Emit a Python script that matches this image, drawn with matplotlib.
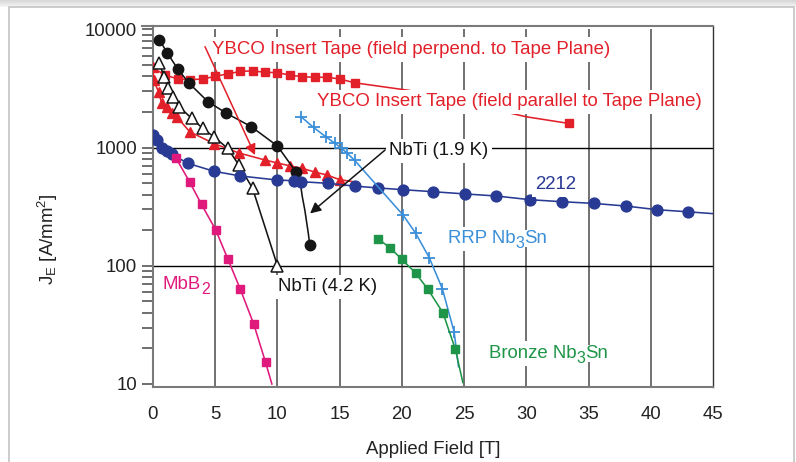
import numpy as np
import matplotlib
matplotlib.use("Agg")
import matplotlib.pyplot as plt
from matplotlib.patches import Rectangle

plt.rcParams["font.family"] = ["Liberation Sans", "DejaVu Sans"]
plt.rcParams["mathtext.fontset"] = "custom"
plt.rcParams["mathtext.rm"] = "Liberation Sans"
plt.rcParams["mathtext.it"] = "Liberation Sans:italic"
plt.rcParams["mathtext.bf"] = "Liberation Sans:bold"
plt.rcParams["mathtext.default"] = "regular"

# ---------------- data: engineering current density vs applied field ----------------
# NbTi at 1.9 K
nbti19_B = [0.5, 1.15, 2.0, 2.9, 4.4, 5.9, 7.9, 10.0, 11.5, 12.6]
nbti19_J = [8200, 6300, 4600, 3500, 2450, 1950, 1500, 1030, 620, 150]
nbti19_tail_B = [11.5, 11.8, 12.0, 12.2, 12.48, 12.6]
nbti19_tail_J = [620, 531, 383, 296, 188, 150]

# NbTi at 4.2 K
nbti42_B = [0.5, 0.9, 1.2, 1.6, 2.1, 3.1, 4.0, 4.9, 6.0, 6.9, 8.0, 10.0]
nbti42_J = [5150, 3970, 3170, 2690, 2210, 1770, 1450, 1230, 985, 711, 452, 100]

# YBCO insert tape, field parallel to tape plane
ybco_par_B = [1.0, 2.0, 3.0, 4.0, 5.0, 6.0, 7.0, 8.0, 9.0, 10.0, 11.0, 12.0, 13.0, 14.0, 15.0, 16.2]
ybco_par_J = [4100, 3800, 3750, 3800, 4000, 4200, 4400, 4450, 4330, 4300, 4100, 3970, 3930, 3930, 3800, 3530]
ybco_par_high_B = [33.4]
ybco_par_high_J = [1600]
ybco_par_line_B = [0.0, 1.0]
ybco_par_line_J = [4700, 4100]
ybco_par_gap_B = [16.2, 20.7, 30.0, 33.4]
ybco_par_gap_J = [3530, 3030, 1820, 1600]

# YBCO insert tape, field perpendicular to tape plane
ybco_perp_B = [0.0, 0.05, 0.45, 0.7, 1.15, 1.55, 1.95, 2.95, 4.9, 6.9, 9.0, 10.0, 11.0, 12.0, 13.0, 14.0, 15.0]
ybco_perp_J = [4800, 3700, 2950, 2370, 2210, 1950, 1800, 1360, 1080, 900, 784, 740, 700, 667, 620, 585, 535]
ybco_perp_end_B = [15.0, 16.2]
ybco_perp_end_J = [535, 512]

# Bi-2212
bi2212_B = [0.0, 0.3, 0.7, 1.1, 1.5, 2.8, 4.9, 7.0, 10.0, 11.3, 11.9, 14.1, 16.2, 18.1, 20.1,
            22.5, 25.1, 27.6, 30.3, 32.9, 35.4, 38.0, 40.5, 43.0]
bi2212_J = [1270, 1150, 1000, 930, 880, 735, 630, 575, 531, 524, 514, 498, 472, 455, 440,
            423, 405, 389, 362, 348, 337, 320, 298, 286]
bi2212_end_B = [43.0, 45.0]
bi2212_end_J = [286, 276]

# MgB2
mgb2_B = [1.85, 2.95, 3.9, 5.05, 6.0, 7.0, 8.1, 9.05]
mgb2_J = [815, 510, 330, 200, 115, 64, 32, 15.2]
mgb2_end_B = [9.05, 9.55]
mgb2_end_J = [15.2, 10.0]

# RRP Nb3Sn
rrp_B = [11.9, 12.9, 13.9, 14.6, 15.15, 15.6, 16.2, 20.1, 21.1, 22.2, 23.25, 24.2]
rrp_J = [1820, 1480, 1230, 1090, 985, 895, 780, 268, 189, 117, 64, 27.5]
rrp_end_B = [24.2, 24.55]
rrp_end_J = [27.5, 14.0]

# Bronze Nb3Sn
bronze_B = [18.05, 19.05, 20.0, 21.1, 22.1, 23.3, 24.3]
bronze_J = [170, 142, 113, 87, 63, 40, 19.6]
bronze_end_B = [24.3, 24.9]
bronze_end_J = [19.6, 10.3]

field_ticks = [0, 5, 10, 15, 20, 25, 30, 35, 40, 45]
grid_fields = [5, 10, 15, 20, 25, 30, 35, 40]
grid_currents = [100, 1000]

# ---------------- colours ----------------
RED = "#e2202a"
BLACK = "#151515"
NAVY = "#283a93"
MAGENTA = "#e0197c"
SKY = "#3a8fd8"
GREEN = "#1e9548"

FS = 13.4
SUB_FS = 11.5

W, H = 796, 462
fig = plt.figure(figsize=(W / 100, H / 100), dpi=100)

# card outline and soft shadow along the top edge
shadow = fig.add_axes([0, 1 - 7 / H, 1, 7 / H])
grad = np.linspace(0.84, 0.96, 20)[:, None] * np.ones((1, 10))
shadow.imshow(grad, cmap="gray", vmin=0, vmax=1, aspect="auto", extent=[0, 1, 0, 1])
shadow.set_axis_off()
fig.patches.append(Rectangle((9 / W, -0.1), (794 - 9) / W, 1.1 - 7 / H,
                             transform=fig.transFigure, fill=False,
                             ec="#c4c4c4", lw=1.2, zorder=0))

ax = fig.add_axes([153 / W, 1 - 387 / H, (713 - 153) / W, (387 - 26) / H])
ax.set_yscale("log")
ax.set_xlim(0, 45)
ax.set_ylim(10 ** 0.9746, 10 ** 4.028)

# grid
ax.vlines(grid_fields, 10 ** 0.9746, 10000, colors="#4a4a4a", lw=1.1, zorder=1)
for g in grid_currents:
    ax.axhline(g, color="#000000", lw=1.0, zorder=1)

lw = 1.15
# YBCO perpendicular (triangles)
ax.plot(ybco_perp_end_B, ybco_perp_end_J, color=RED, lw=lw, zorder=3)
ax.plot(ybco_perp_B, ybco_perp_J, color=RED, lw=lw, marker="^", ms=7, mec=RED, mfc=RED, zorder=3)
# YBCO parallel (squares)
ax.plot(ybco_par_line_B, ybco_par_line_J, color=RED, lw=lw, zorder=3)
ax.plot(ybco_par_gap_B, ybco_par_gap_J, color=RED, lw=lw, zorder=3)
ax.plot(ybco_par_B, ybco_par_J, color=RED, lw=lw, marker="s", ms=6, zorder=3)
ax.plot(ybco_par_high_B, ybco_par_high_J, ls="none", color=RED, marker="s", ms=6, zorder=3)

# NbTi 4.2 K
ax.plot(nbti42_B, nbti42_J, color=BLACK, lw=lw, marker="^", ms=8, mfc="white", mec=BLACK, mew=1.1, zorder=4)
# NbTi 1.9 K
ax.plot(nbti19_B[:-1], nbti19_J[:-1], color=BLACK, lw=lw, zorder=4)
ax.plot(nbti19_tail_B, nbti19_tail_J, color=BLACK, lw=lw, zorder=4)
ax.plot(nbti19_B, nbti19_J, ls="none", color=BLACK, marker="o", ms=7.5, zorder=4)

# Bi-2212
ax.plot(bi2212_end_B, bi2212_end_J, color=NAVY, lw=lw, zorder=4)
ax.plot(bi2212_B, bi2212_J, color=NAVY, lw=lw, marker="o", ms=7.8, zorder=4)

# MgB2
ax.plot(mgb2_end_B, mgb2_end_J, color=MAGENTA, lw=lw, zorder=5)
ax.plot(mgb2_B, mgb2_J, color=MAGENTA, lw=lw, marker="s", ms=6, zorder=5)

# RRP Nb3Sn
ax.plot(rrp_end_B, rrp_end_J, color=SKY, lw=lw, zorder=4)
ax.plot(rrp_B, rrp_J, color=SKY, lw=lw, marker="+", ms=9, mew=1.3, zorder=4)

# Bronze Nb3Sn
ax.plot(bronze_end_B, bronze_end_J, color=GREEN, lw=lw, zorder=4)
ax.plot(bronze_B, bronze_J, color=GREEN, lw=lw, marker="s", ms=6, zorder=4)


def label(x, y, parts, color):
    """Draw a label made of (text, is_subscript) pieces on white backing boxes."""
    first_text, _ = parts[0]
    base = ax.text(x, y, first_text, color=color, fontsize=FS, va="baseline", ha="left",
                   bbox=dict(facecolor="white", edgecolor="none", pad=2.5), zorder=6)
    prev = base
    for text, sub in parts[1:]:
        prev = ax.annotate(text, xy=(1, 0), xycoords=(prev, base),
                           xytext=(0, -2.6 if sub else 0), textcoords="offset points",
                           fontsize=SUB_FS if sub else FS, color=color,
                           va="bottom", ha="left", zorder=6, annotation_clip=False,
                           bbox=dict(facecolor="white", edgecolor="none", pad=0))


label(4.74, 6180, [("YBCO Insert Tape (field perpend. to Tape Plane)", False)], RED)
label(13.16, 2244, [("YBCO Insert Tape (field parallel to Tape Plane)", False)], RED)
label(18.97, 864, [("NbTi (1.9 K)", False)], BLACK)
label(30.7, 446, [("2212", False)], NAVY)
label(23.7, 155, [("RRP Nb", False), ("3", True), ("Sn", False)], SKY)
label(27.0, 16.6, [("Bronze Nb", False), ("3", True), ("Sn", False)], GREEN)
label(10.05, 61, [("NbTi (4.2 K)", False)], BLACK)
label(0.8, 63.6, [("MbB", False), ("2", True)], MAGENTA)

# pointer arrows
ax.annotate("", xy=(8.2, 863), xytext=(4.18, 7125),
            arrowprops=dict(arrowstyle="-|>", color=RED, lw=1.1, mutation_scale=16,
                            shrinkA=0, shrinkB=0), zorder=7)
ax.annotate("", xy=(12.62, 277), xytext=(18.65, 953),
            arrowprops=dict(arrowstyle="-|>", color=BLACK, lw=1.1, mutation_scale=16,
                            shrinkA=0, shrinkB=0), zorder=7)

# axes styling
for side in ["top", "bottom", "left"]:
    ax.spines[side].set_color("#7a7a7a")
    ax.spines[side].set_linewidth(1.5)
ax.spines["right"].set_color("#333333")
ax.spines["right"].set_linewidth(1.0)
ax.plot([-11 / 560, 0], [1, 1], transform=ax.transAxes, clip_on=False,
        color="#7a7a7a", lw=1.5)

ax.set_xticks(field_ticks)
ax.set_xticklabels([str(t) for t in field_ticks])
ax.tick_params(axis="x", length=0, pad=14, labelsize=FS, colors="#222222")
ax.set_yticks([10, 100, 1000, 10000])
ax.set_yticklabels(["10", "100", "1000", "10000"])
ax.yaxis.set_minor_locator(matplotlib.ticker.LogLocator(base=10, subs=np.arange(2, 10)))
ax.yaxis.set_minor_formatter(matplotlib.ticker.NullFormatter())
ax.tick_params(axis="y", which="both", direction="out", length=8, width=1.2,
               color="#555555", pad=3.5, labelsize=FS, labelcolor="#222222")

ax.set_xlabel("Applied Field [T]", fontsize=FS, color="#222222")
ax.xaxis.set_label_coords(0.5, -0.15)
ax.set_ylabel("J$_\\mathrm{E}$ [A/mm$^2$]", fontsize=FS, color="#222222")
ax.yaxis.set_label_coords(-0.166, 0.41)

fig.savefig("out.png", dpi=100, facecolor="white")
